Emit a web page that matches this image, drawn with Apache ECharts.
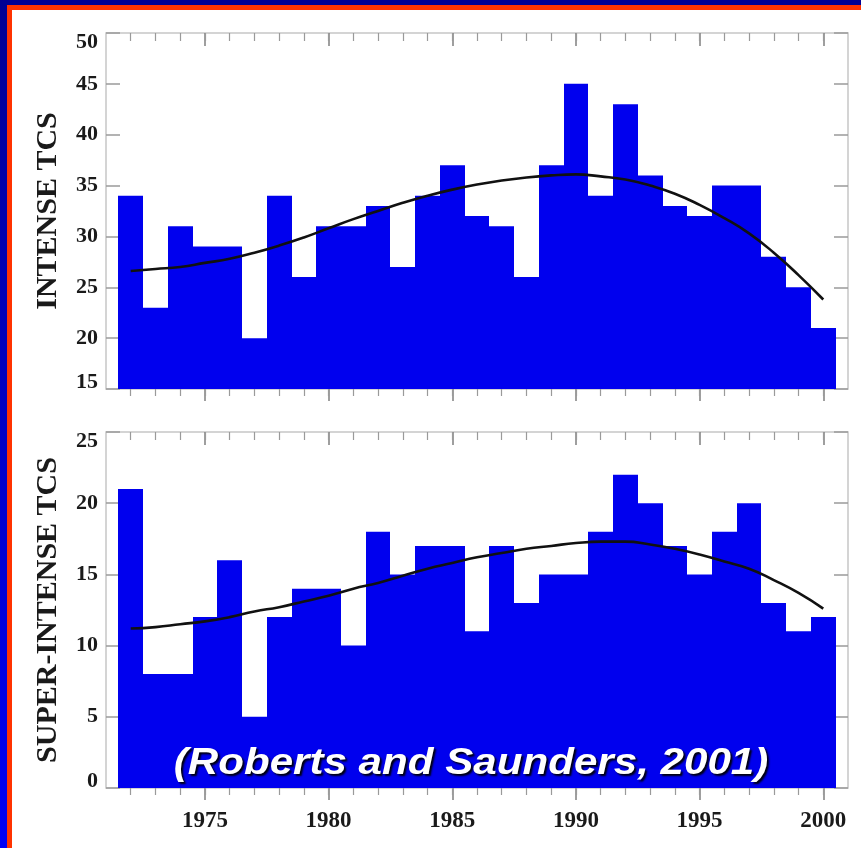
<!DOCTYPE html>
<html>
<head>
<meta charset="utf-8">
<script src="https://cdn.jsdelivr.net/npm/echarts@6/dist/echarts.min.js"></script>
<style>
html,body{margin:0;padding:0;background:#fff;}
#chart{width:861px;height:848px;}
</style>
</head>
<body>
<div id="chart"></div>
<script>
// ---- data ----
const years = [1972,1973,1974,1975,1976,1977,1978,1979,1980,1981,1982,1983,1984,1985,1986,1987,1988,1989,1990,1991,1992,1993,1994,1995,1996,1997,1998,1999,2000];
const majorYears = [1975,1980,1985,1990,1995,2000];
const intenseTCs = [34,23,31,29,29,20,34,26,31,31,33,27,34,37,32,31,26,37,45,34,43,36,33,32,35,35,28,25,21];
const intenseFit = [26.6,26.8,27.0,27.4,27.8,28.4,29.1,29.9,30.8,31.7,32.5,33.3,34.0,34.6,35.1,35.5,35.8,36.0,36.1,35.9,35.6,35.0,34.2,33.1,31.8,30.3,28.4,26.2,23.8];
const superTCs = [21,8,8,12,16,5,12,14,14,10,18,15,17,17,11,17,13,15,15,18,22,20,17,15,18,20,13,11,12];
const superFit = [11.2,11.3,11.5,11.7,12.0,12.4,12.7,13.1,13.5,14.0,14.4,14.9,15.4,15.8,16.2,16.5,16.8,17.0,17.2,17.3,17.3,17.1,16.8,16.4,15.9,15.4,14.6,13.7,12.6];
const topYTicks = [15,20,25,30,35,40,45,50];
const bottomYTicks = [0,5,10,15,20,25];
const topName = 'INTENSE TCS';
const bottomName = 'SUPER-INTENSE TCS';
const caption = '(Roberts and Saunders, 2001)';

const chart = echarts.init(document.getElementById('chart'), null, {renderer:'canvas'});

const SERIF = '"Liberation Serif", "DejaVu Serif", serif';
const BAR = '#0000ee';
const TICK = '#9a9a9a';
const XMIN = 1971, XMAX = 2001;

const grids = [
  {left:106, top:33, width:742, height:356},
  {left:106, top:432, width:742, height:356}
];
const panels = [
  {vals:intenseTCs, fit:intenseFit, ticks:topYTicks, name:topName},
  {vals:superTCs, fit:superFit, ticks:bottomYTicks, name:bottomName}
];

const xAxes = [], yAxes = [], series = [];
panels.forEach((p, g) => {
  const ymin = p.ticks[0], ymax = p.ticks[p.ticks.length-1];
  const base = {gridIndex:g, type:'value', min:XMIN, max:XMAX,
    axisLine:{show:false, onZero:false}, splitLine:{show:false}};
  const xi = xAxes.length;
  // bottom major
  xAxes.push(Object.assign({}, base, {position:'bottom',
    axisTick:{show:true, customValues:majorYears, length:12, inside:false, lineStyle:{color:'#808080', width:1.5}},
    axisLabel:{show:g===1, customValues:majorYears, margin:22, fontFamily:SERIF, fontWeight:'bold', fontSize:23, color:'#1a1a1a',
      formatter:function(v){ return String(v); }}}));
  // bottom minor
  xAxes.push(Object.assign({}, base, {position:'bottom',
    axisTick:{show:true, customValues:years, length:7, inside:false, lineStyle:{color:TICK, width:1.2}},
    axisLabel:{show:false}}));
  // top major
  xAxes.push(Object.assign({}, base, {position:'top',
    axisTick:{show:true, customValues:majorYears, length:13, inside:true, lineStyle:{color:'#808080', width:1.5}},
    axisLabel:{show:false}}));
  // top minor
  xAxes.push(Object.assign({}, base, {position:'top',
    axisTick:{show:true, customValues:years, length:8, inside:true, lineStyle:{color:TICK, width:1.2}},
    axisLabel:{show:false}}));

  const yi = yAxes.length;
  yAxes.push({gridIndex:g, type:'value', position:'left', min:ymin, max:ymax, interval:5,
    axisLine:{show:false, onZero:false}, splitLine:{show:false},
    axisTick:{show:true, inside:true, length:14, lineStyle:{color:TICK, width:1.5}},
    axisLabel:{margin:8, fontFamily:SERIF, fontWeight:'bold', fontSize:22, color:'#1a1a1a',
      formatter:function(v){ if(v===ymax) return '{t|'+v+'}'; if(v===ymin) return '{b|'+v+'}'; return String(v);},
      rich:{
        t:{fontFamily:SERIF, fontWeight:'bold', fontSize:22, color:'#1a1a1a', lineHeight:40, verticalAlign:'bottom'},
        b:{fontFamily:SERIF, fontWeight:'bold', fontSize:22, color:'#1a1a1a', lineHeight:36, verticalAlign:'top'}
      }},
    name:p.name, nameLocation:'middle', nameGap:43, nameRotate:90,
    nameTextStyle:{fontFamily:SERIF, fontWeight:'bold', fontSize:30, color:'#1a1a1a'}});
  yAxes.push({gridIndex:g, type:'value', position:'right', min:ymin, max:ymax, interval:5,
    axisLine:{show:false, onZero:false}, splitLine:{show:false},
    axisTick:{show:true, inside:true, length:14, lineStyle:{color:TICK, width:1.5}},
    axisLabel:{show:false}});

  series.push({type:'custom', xAxisIndex:xi, yAxisIndex:yi, z:2,
    data: years.map((y,k)=>[y, p.vals[k]]),
    renderItem:function(params, api){
      const x = api.value(0), v = api.value(1);
      const p1 = api.coord([x-0.5, v]);
      const p2 = api.coord([x+0.5, ymin]);
      const x1 = Math.round(p1[0]), x2 = Math.round(p2[0]);
      return {type:'rect', shape:{x:x1, y:p1[1], width:x2-x1, height:p2[1]-p1[1]},
        style:{fill:BAR}};
    }});
  series.push({type:'line', xAxisIndex:xi, yAxisIndex:yi, z:5, smooth:true, symbol:'none',
    data: years.map((y,k)=>[y, p.fit[k]]),
    lineStyle:{color:'#111', width:2.6}});
});

const option = {
  animation:false,
  backgroundColor:'#ffffff',
  grid: grids.map(g=>Object.assign({show:true, borderColor:'#c6c6c6', borderWidth:1.5, backgroundColor:'#fff', containLabel:false}, g)),
  xAxis:xAxes,
  yAxis:yAxes,
  series:series,
  graphic:[
    {type:'rect', shape:{x:0, y:0, width:861, height:5}, style:{fill:'#000094'}, z:10},
    {type:'rect', shape:{x:0, y:0, width:7, height:848},
      style:{fill:{type:'linear', x:0, y:0, x2:0, y2:1, colorStops:[{offset:0, color:'#000094'},{offset:1, color:'#0000f5'}]}}, z:10},
    {type:'rect', shape:{x:7, y:5, width:854, height:5}, style:{fill:'#ff3300'}, z:10},
    {type:'rect', shape:{x:7, y:5, width:5, height:843}, style:{fill:'#ff3300'}, z:10},
    {type:'text', x:471, y:782, z:20, scaleX:1.17, scaleY:1,
      style:{text:caption, fill:'#ffffff', font:'italic bold 36px "Liberation Sans", Arial, sans-serif',
        textAlign:'center', textVerticalAlign:'bottom',
        textShadowColor:'rgba(0,0,0,0.95)', textShadowBlur:2, textShadowOffsetX:2, textShadowOffsetY:2}}
  ]
};
chart.setOption(option);
</script>
</body>
</html>
